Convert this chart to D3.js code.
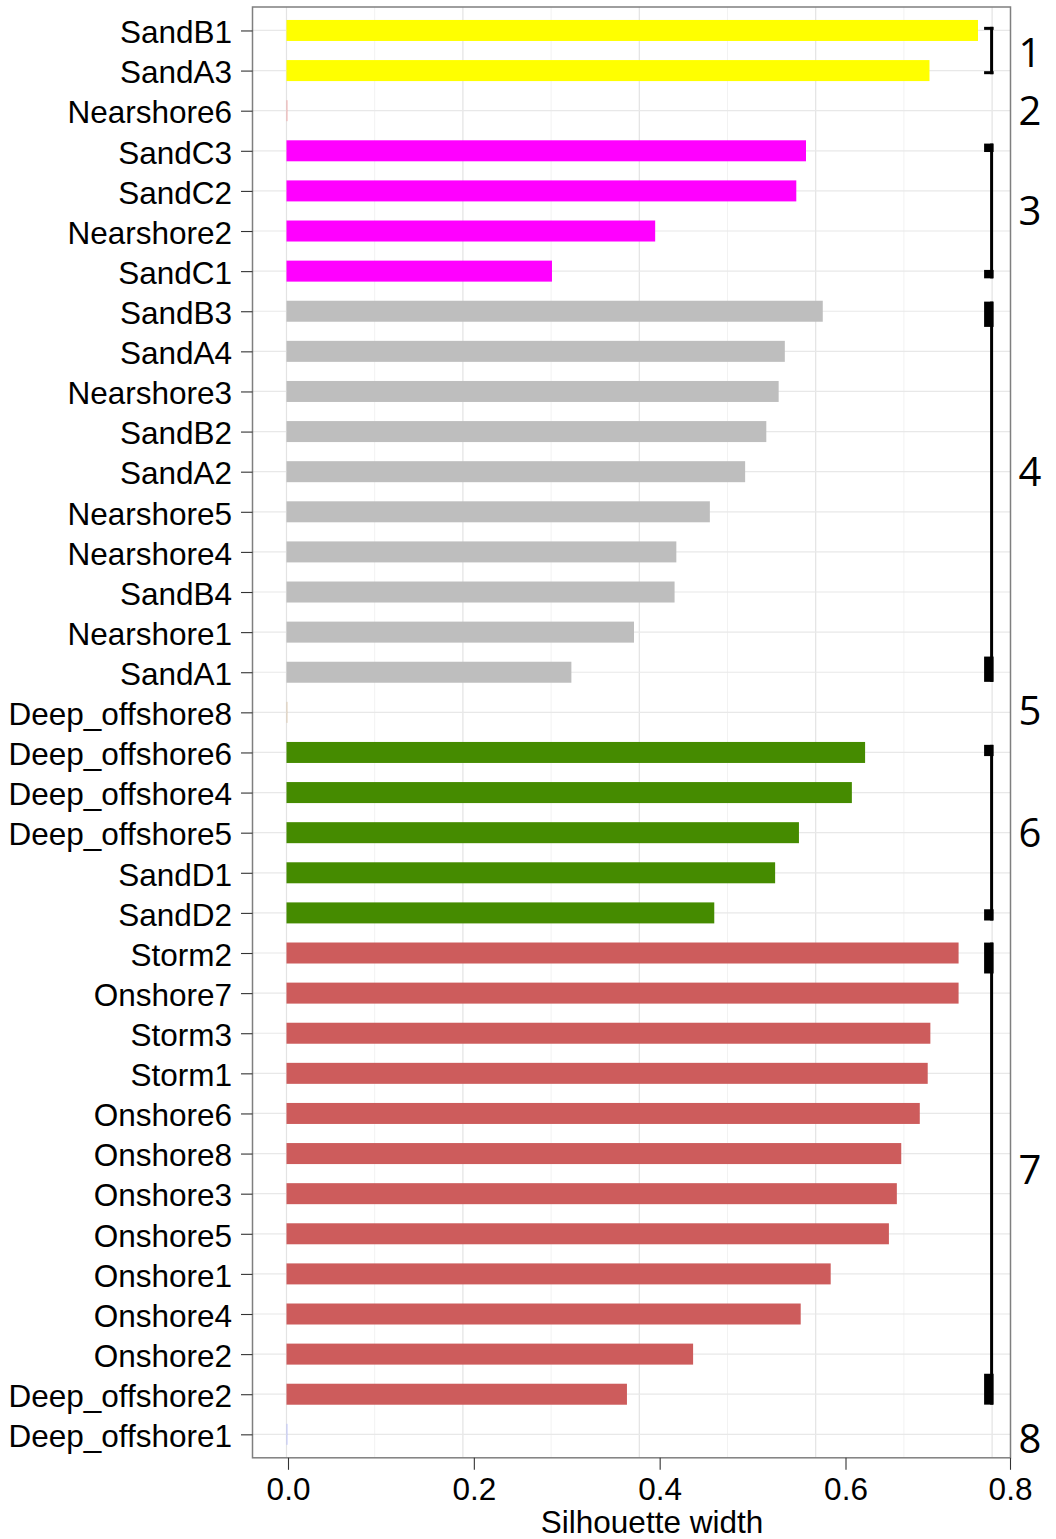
<!DOCTYPE html>
<html>
<head>
<meta charset="utf-8">
<script src="https://cdn.jsdelivr.net/npm/d3@7"></script>
<style>
  html, body { margin: 0; padding: 0; background: #ffffff; }
  svg { display: block; }
  text { font-family: "Liberation Sans", Arial, Helvetica, sans-serif; fill: #000; }
  .clusterLabel { font-family: "Open Sans", "DejaVu Sans", sans-serif; }
</style>
</head>
<body>
<svg id="chart" width="1056" height="1539"></svg>
<script>
// Sites in plotting order (top to bottom), grouped by cluster
const sites = [
  "SandB1", "SandA3",
  "Nearshore6",
  "SandC3", "SandC2", "Nearshore2", "SandC1",
  "SandB3", "SandA4", "Nearshore3", "SandB2", "SandA2", "Nearshore5", "Nearshore4", "SandB4", "Nearshore1", "SandA1",
  "Deep_offshore8",
  "Deep_offshore6", "Deep_offshore4", "Deep_offshore5", "SandD1", "SandD2",
  "Storm2", "Onshore7", "Storm3", "Storm1", "Onshore6", "Onshore8", "Onshore3", "Onshore5", "Onshore1", "Onshore4", "Onshore2", "Deep_offshore2",
  "Deep_offshore1"
];

// Silhouette width of each site
const silhouette = [
  0.784, 0.729,
  0.000,
  0.589, 0.578, 0.418, 0.301,
  0.608, 0.565, 0.558, 0.544, 0.520, 0.480, 0.442, 0.440, 0.394, 0.323,
  0.000,
  0.656, 0.641, 0.581, 0.554, 0.485,
  0.762, 0.762, 0.730, 0.727, 0.718, 0.697, 0.692, 0.683, 0.617, 0.583, 0.461, 0.386,
  0.000
];

// Cluster membership of each site
const cluster = [
  1, 1,
  2,
  3, 3, 3, 3,
  4, 4, 4, 4, 4, 4, 4, 4, 4, 4,
  5,
  6, 6, 6, 6, 6,
  7, 7, 7, 7, 7, 7, 7, 7, 7, 7, 7, 7,
  8
];

// Cluster ids, their bar colours and the row their number sits on
const clusterIds = [1, 2, 3, 4, 5, 6, 7, 8];
const clusterColors = ["#ffff00", "#f08080", "#ff00ff", "#bebebe", "#d2b48c", "#458b00", "#cd5c5c", "#9fa8ff"];
const clusterLabelRow = [0.55, 2, 4.5, 11, 16.95, 20, 28.4, 35.1];

// Axis ticks
const gridValues = [0, 0.1, 0.2, 0.3, 0.4, 0.5, 0.6, 0.7, 0.8];
const axisTicks = [0, 0.2, 0.4, 0.6, 0.8];
const axisTitle = "Silhouette width";

const svg = d3.select("#chart");

// Panel geometry
const panel = { left: 252.5, right: 1010.5, top: 7, bottom: 1457.8 };

// Horizontal scale of the panel (bars, grid, brackets)
const x = d3.scaleLinear().domain([0, 0.8]).range([286.5, 992.1]);

// Bottom axis scale
const xAxisScale = d3.scaleLinear()
  .domain([0, 0.6, 0.8])
  .range([288, 845.5, 1010]);

// Vertical scale: one row per site
const y = d3.scalePoint()
  .domain(sites)
  .range([panel.top, panel.bottom])
  .padding(0.585);
const yRow = d3.scaleLinear()
  .domain([0, sites.length - 1])
  .range([y(sites[0]), y(sites[sites.length - 1])]);

const barH = 21;
const colorOf = d3.scaleOrdinal().domain(clusterIds).range(clusterColors);

const data = sites.map((s, i) => ({ site: s, value: silhouette[i], cluster: cluster[i], row: i }));

// Grid
const grid = svg.append("g");
grid.selectAll("line.v")
  .data(gridValues)
  .join("line")
  .attr("x1", d => x(d)).attr("x2", d => x(d))
  .attr("y1", panel.top).attr("y2", panel.bottom)
  .attr("stroke", (d, i) => i % 2 === 0 ? "#e3e3e3" : "#f2f2f2")
  .attr("stroke-width", (d, i) => i % 2 === 0 ? 1.2 : 1);
grid.selectAll("line.h")
  .data(sites)
  .join("line")
  .attr("x1", panel.left).attr("x2", panel.right)
  .attr("y1", d => y(d)).attr("y2", d => y(d))
  .attr("stroke", "#e8e8e8")
  .attr("stroke-width", 1.2);

// Bars
svg.append("g")
  .selectAll("rect")
  .data(data)
  .join("rect")
  .attr("x", x(0))
  .attr("y", d => y(d.site) - barH / 2)
  .attr("width", d => x(d.value) - x(0))
  .attr("height", barH)
  .attr("fill", d => colorOf(d.cluster));

// Singleton clusters have zero width: show them as a hairline
svg.append("g")
  .selectAll("line")
  .data(data.filter(d => d.value === 0))
  .join("line")
  .attr("x1", d => x(d.value) + 0.5).attr("x2", d => x(d.value) + 0.5)
  .attr("y1", d => y(d.site) - barH / 2)
  .attr("y2", d => y(d.site) + barH / 2)
  .attr("stroke", d => colorOf(d.cluster))
  .attr("stroke-opacity", 0.6)
  .attr("stroke-width", 1);

// Brackets joining the members of each multi-site cluster
const groups = d3.groups(data, d => d.cluster)
  .map(([c, rows]) => ({ cluster: c, first: d3.min(rows, r => r.row), last: d3.max(rows, r => r.row) }))
  .filter(g => g.last > g.first);

const bx = x(0.8);
const br = svg.append("g").attr("fill", "#000");
groups.forEach(g => {
  const y0 = yRow(g.first), y1 = yRow(g.last);
  const span = y1 - y0;
  const ext = Math.min(6, span * 0.08) + span * 0.01;
  const tip = Math.max(3, span * 0.07);
  const top = y0 - ext, bottom = y1 + ext;
  br.append("rect").attr("x", bx - 2).attr("width", 3).attr("y", top).attr("height", bottom - top);
  br.append("rect").attr("x", bx - 8).attr("width", 9.5).attr("y", top).attr("height", tip);
  br.append("rect").attr("x", bx - 8).attr("width", 9.5).attr("y", bottom - tip).attr("height", tip);
});

// Cluster numbers
svg.append("g")
  .selectAll("text")
  .data(clusterIds)
  .join("text")
  .attr("class", "clusterLabel")
  .attr("x", 1030)
  .attr("y", (d, i) => yRow(clusterLabelRow[i]))
  .attr("dy", "0.36em")
  .attr("text-anchor", "middle")
  .attr("font-size", 40)
  .text(d => d);

// Panel border
svg.append("rect")
  .attr("x", panel.left).attr("y", panel.top)
  .attr("width", panel.right - panel.left)
  .attr("height", panel.bottom - panel.top)
  .attr("fill", "none")
  .attr("stroke", "#7f7f7f")
  .attr("stroke-width", 1.5);

// Left axis: site names
const yAxis = svg.append("g")
  .attr("transform", `translate(${panel.left},0)`)
  .call(d3.axisLeft(y).tickSize(11.5).tickPadding(9));
yAxis.select(".domain").remove();
yAxis.selectAll(".tick line").attr("stroke", "#333").attr("stroke-width", 1.1);
yAxis.selectAll(".tick text")
  .attr("font-size", 31.5)
  .attr("dy", "0.39em")
  .attr("font-family", "'Liberation Sans', Arial, sans-serif")
  .attr("fill", "#000");

// Bottom axis
const xAxis = svg.append("g")
  .attr("transform", `translate(0,${panel.bottom})`)
  .call(d3.axisBottom(xAxisScale).tickValues(axisTicks).tickFormat(d3.format(".1f")).tickSize(12).tickPadding(8));
xAxis.select(".domain").remove();
xAxis.selectAll(".tick line").attr("stroke", "#333").attr("stroke-width", 1.1);
xAxis.selectAll(".tick text")
  .attr("font-size", 31.5)
  .attr("font-family", "'Liberation Sans', Arial, sans-serif")
  .attr("fill", "#000");

svg.append("text")
  .attr("x", 652)
  .attr("y", 1533)
  .attr("text-anchor", "middle")
  .attr("font-size", 31.5)
  .text(axisTitle);
</script>
</body>
</html>
